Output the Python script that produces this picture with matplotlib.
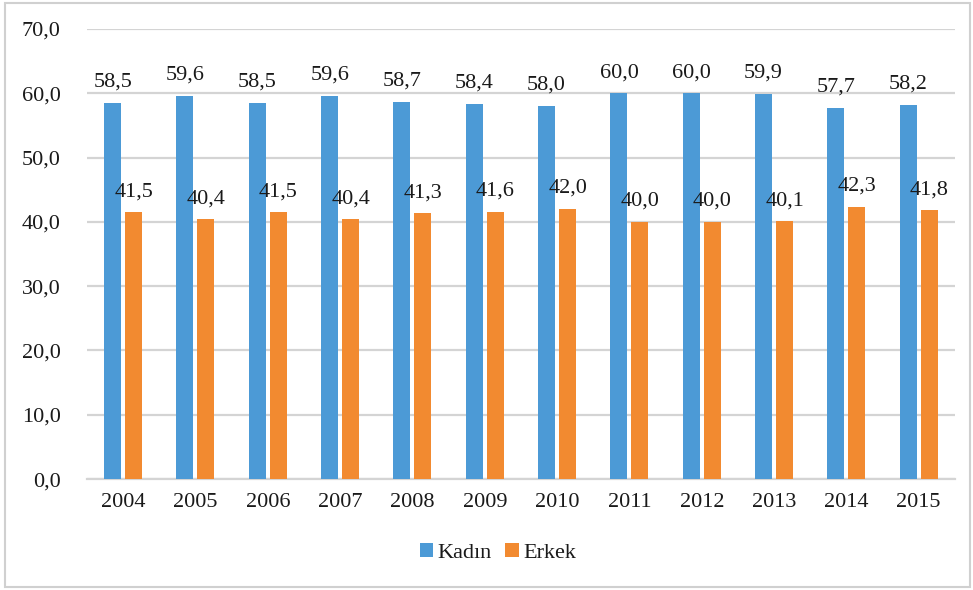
import matplotlib
matplotlib.use("Agg")
import matplotlib.pyplot as plt
import numpy as np
from matplotlib.patches import Rectangle

years = ["2004", "2005", "2006", "2007", "2008", "2009", "2010", "2011", "2012", "2013", "2014", "2015"]
kadin = [58.5, 59.6, 58.5, 59.6, 58.7, 58.4, 58.0, 60.0, 60.0, 59.9, 57.7, 58.2]
erkek = [41.5, 40.4, 41.5, 40.4, 41.3, 41.6, 42.0, 40.0, 40.0, 40.1, 42.3, 41.8]
yticks = [0, 10, 20, 30, 40, 50, 60, 70]

plt.rcParams['font.family'] = ['Liberation Serif', 'DejaVu Serif']

fig = plt.figure(figsize=(9.73, 5.9), dpi=100)
ax = fig.add_axes([0.0894, 0.188, 0.892, 0.763])

blue = "#4C9AD6"
orange = "#F28A30"
x = np.arange(len(years))
w = 0.235
off = 0.145
b1 = ax.bar(x - off, kadin, w, color=blue, label="Kadın", zorder=3)
b2 = ax.bar(x + off, erkek, w, color=orange, label="Erkek", zorder=3)

def fmt(v):
    return f"{v:.1f}".replace(".", ",")

for bars, vals in ((b1, kadin), (b2, erkek)):
    for r, v in zip(bars, vals):
        ax.annotate(fmt(v), (r.get_x() + r.get_width() / 2, v), xytext=(0, 8),
                    textcoords="offset points", ha="center", va="bottom",
                    fontsize=16, color="#1a1a1a", zorder=4)

ax.set_xlim(-0.5, len(years) - 0.5)
ax.set_ylim(0, 70)
ax.set_yticks(yticks)
ax.set_yticklabels([fmt(t) for t in yticks], fontsize=16, color="#1a1a1a")
ax.set_xticks(x)
ax.set_xticklabels(years, fontsize=16, color="#1a1a1a")
ax.tick_params(axis='y', length=0, pad=19)
ax.tick_params(axis='x', length=0, pad=10)
ax.yaxis.grid(True, color="#D4D4D4", linewidth=1.6, zorder=0)
ax.set_axisbelow(True)
for s in ["top", "right", "left"]:
    ax.spines[s].set_visible(False)
ax.spines["bottom"].set_color("#D4D4D4")
ax.spines["bottom"].set_linewidth(1.6)

leg = ax.legend(loc="center", bbox_to_anchor=(0.4735, -0.164), ncol=2, frameon=False,
                fontsize=16, handlelength=0.6, handleheight=0.6, handletextpad=0.2,
                columnspacing=0.6)
for t in leg.get_texts():
    t.set_color("#1a1a1a")

fig.patches.append(Rectangle((5 / 973, 3 / 590), 965 / 973, 584 / 590, transform=fig.transFigure,
                             fill=False, edgecolor="#D0D0D0", linewidth=1.5))

fig.savefig("out.png", dpi=100)
